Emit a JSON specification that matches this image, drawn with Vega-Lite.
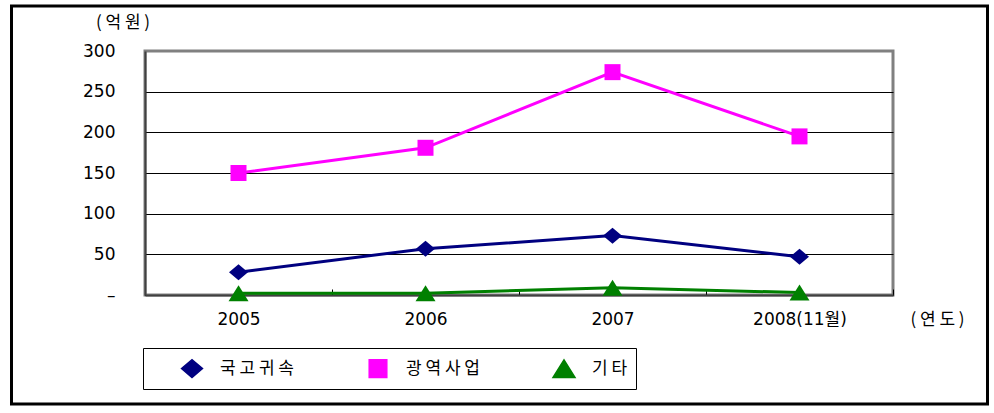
{
  "$schema": "https://vega.github.io/schema/vega-lite/v6.json",
  "width": 748,
  "height": 244,
  "autosize": {"type": "none"},
  "padding": {"left": 145, "top": 51, "right": 101, "bottom": 118},
  "background": "white",
  "data": {
    "values": [
      {"year": "2005", "series": "국고귀속", "value": 28},
      {"year": "2006", "series": "국고귀속", "value": 57},
      {"year": "2007", "series": "국고귀속", "value": 73},
      {"year": "2008(11월)", "series": "국고귀속", "value": 47},
      {"year": "2005", "series": "광역사업", "value": 150},
      {"year": "2006", "series": "광역사업", "value": 181},
      {"year": "2007", "series": "광역사업", "value": 274},
      {"year": "2008(11월)", "series": "광역사업", "value": 195},
      {"year": "2005", "series": "기타", "value": 2},
      {"year": "2006", "series": "기타", "value": 2},
      {"year": "2007", "series": "기타", "value": 9},
      {"year": "2008(11월)", "series": "기타", "value": 3}
    ]
  },
  "encoding": {
    "x": {
      "field": "year",
      "type": "nominal",
      "sort": ["2005", "2006", "2007", "2008(11월)"],
      "bandPosition": 0.5,
      "scale": {"type": "band", "paddingInner": 0, "paddingOuter": 0},
      "axis": {
        "title": "( 연 도 )",
        "titleX": 792,
        "titleY": 24,
        "titleAngle": 0,
        "titleAlign": "center",
        "titleBaseline": "middle",
        "titleFont": "Noto Sans CJK KR",
        "titleFontSize": 17,
        "titleFontWeight": "normal",
        "titleColor": "black",
        "labelAngle": 0,
        "labelFont": "DejaVu Sans, Noto Sans CJK KR",
        "labelFontSize": 17,
        "labelColor": "black",
        "labelPadding": 22,
        "labelBaseline": "top",
        "tickBand": "extent",
        "tickSize": -6,
        "tickColor": "black",
        "tickWidth": 1,
        "domainColor": "#404040",
        "domainWidth": 2,
        "grid": false
      }
    },
    "y": {
      "field": "value",
      "type": "quantitative",
      "scale": {"domain": [0, 300], "nice": false},
      "axis": {
        "title": "( 억 원 )",
        "titleX": -22.5,
        "titleY": -29,
        "titleAngle": 0,
        "titleAlign": "center",
        "titleBaseline": "middle",
        "titleFont": "Noto Sans CJK KR",
        "titleFontSize": 17,
        "titleFontWeight": "normal",
        "titleColor": "black",
        "values": [0, 50, 100, 150, 200, 250, 300],
        "labelExpr": "datum.value == 0 ? '–' : datum.label",
        "labelFont": "DejaVu Sans",
        "labelFontSize": 17,
        "labelColor": "black",
        "labelPadding": 30,
        "ticks": false,
        "grid": true,
        "gridColor": {"condition": {"test": "datum.value == 300", "value": "#808080"}, "value": "black"},
        "gridWidth": 1,
        "gridOpacity": 1,
        "domainColor": "#404040",
        "domainWidth": 2
      }
    }
  },
  "layer": [
    {
      "mark": {"type": "line", "strokeWidth": 3},
      "encoding": {
        "color": {
          "field": "series",
          "type": "nominal",
          "scale": {"domain": ["국고귀속", "광역사업", "기타"], "range": ["#000080", "#FF00FF", "#008000"]},
          "legend": {
            "title": null,
            "orient": "none",
            "legendX": -2,
            "legendY": 297,
            "direction": "horizontal",
            "columns": 3,
            "strokeColor": "black",
            "padding": 8.5,
            "symbolSize": 484,
            "symbolOffset": 28.5,
            "labelOffset": 16,
            "columnPadding": 43,
            "labelFont": "Noto Sans CJK KR",
            "labelFontSize": 17,
            "labelColor": "black",
            "labelLimit": 400,
            "labelExpr": "join(split(datum.label, ''), ' ') + (indexof(datum.label, '타') >= 0 ? '\u3000\u3000\u3000\u3000\u3000\u3000\u3000\u3000\u3000\u3000\u3000' : '')"
          }
        }
      }
    },
    {
      "mark": {"type": "point", "filled": true, "opacity": 1, "strokeWidth": 0, "size": 400},
      "encoding": {
        "color": {
          "field": "series",
          "type": "nominal",
          "scale": {"domain": ["국고귀속", "광역사업", "기타"], "range": ["#000080", "#FF00FF", "#008000"]}
        },
        "shape": {
          "field": "series",
          "type": "nominal",
          "scale": {
            "domain": ["국고귀속", "광역사업", "기타"],
            "range": ["M-0.95,0L0,-0.8L0.95,0L0,0.8Z", "M-0.8,-0.8H0.8V0.8H-0.8Z", "M0,-0.8L1,0.8H-1Z"]
          },
          "legend": null
        },
        "stroke": {
          "field": "value",
          "type": "quantitative",
          "scale": {"range": ["rgba(0,0,0,0)", "rgba(0,0,0,0)"]},
          "legend": {
            "title": null,
            "type": "gradient",
            "orient": "none",
            "legendX": -133.5,
            "legendY": -45,
            "direction": "horizontal",
            "gradientLength": 976,
            "gradientThickness": 398,
            "gradientStrokeColor": "black",
            "gradientStrokeWidth": 3,
            "labelExpr": "''",
            "labelOpacity": 0,
            "padding": 0
          }
        }
      }
    }
  ],
  "config": {
    "font": "Noto Sans CJK KR",
    "view": {"stroke": "#808080", "strokeWidth": 3}
  }
}
